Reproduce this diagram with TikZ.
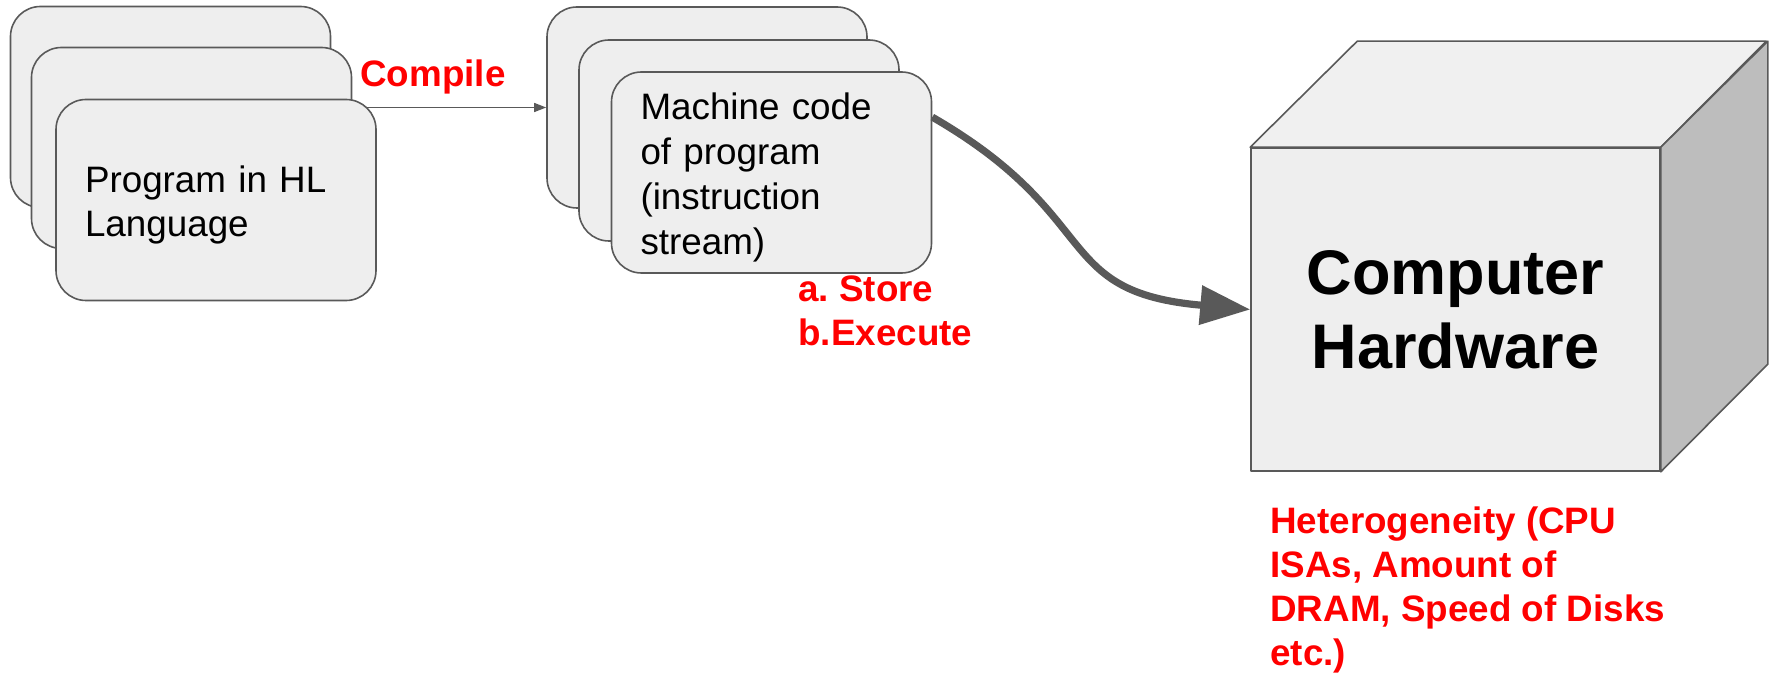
\documentclass[tikz,border=0pt]{standalone}
\usepackage{fontspec}
\setmainfont{Liberation Sans}
\usetikzlibrary{arrows.meta, positioning, backgrounds}
\definecolor{cardfill}{HTML}{EEEEEE}
\definecolor{topfill}{HTML}{F0F0F0}
\definecolor{edgegray}{HTML}{595959}
\definecolor{sidegray}{HTML}{BDBDBD}
\definecolor{notered}{HTML}{FF0000}

\begin{document}
\begin{tikzpicture}[x=0.5pt, y=0.5pt]
			\tikzset {card/.style={draw=edgegray, line width=0.8pt, fill=cardfill, rounded corners=15pt, minimum height=100.5pt, text width=131pt, inner xsep=14.5pt, align=left, font=\fontsize{18.4}{22.4}\selectfont, execute at begin node={\rule{0pt}{18.4pt}}},
				note/.style={text=notered, inner sep=0pt, align=left, font=\fontsize{18.4}{22}\selectfont\bfseries},
				face/.style={draw=edgegray, line width=0.8pt, line join=round},
				thinarrow/.style={-{Triangle[length=6pt, width=4.5pt]}, draw=edgegray, line width=0.6pt},
				bigarrow/.style={-{Triangle[length=25pt, width=19pt]}, draw=edgegray, line width=3.6pt} }

			\useasboundingbox (0,0) rectangle (1775,-673);

			\node[card]	(prog1)	at (170.5,-107)		{};
			\node[card]	(prog2)	at (191.5,-148)		{};
			\node[card]	(prog)	at (216,-200)		{Program in HL\\Language};

			\node[card]	(mcode1)	at (707,-107.5)		{};
			\node[card]	(mcode2)	at (739,-140.5)		{};
			\node[card]	(mcode)		at (771.5,-172.5)	{Machine code\\of program\\(instruction\\stream)};

			\node[face, fill=cardfill, minimum width=204.5pt, minimum height=161.5pt, align=center, font=\fontsize{31.5}{37}\selectfont\bfseries]	(hw)	at (1455.5,-309.5)	{Computer\\Hardware};
			\draw[face, fill=topfill]	(hw.north west) -- ++(107,106) -- ++(409,0) -- (hw.north east) -- cycle;
			\draw[face, fill=sidegray]	(hw.north east) -- ++(107,106) -- ++(0,-323) -- (hw.south east) -- cycle;

			\node[note, anchor=base west]	(compile)	at (360,-87)	{Compile};
			\node[note, anchor=north west]	(steps)		at (798,-275)	{a.\ Store\\b.Execute};
			\node[note, anchor=north west]	(hetero)	at (1270,-506)	{Heterogeneity (CPU\\ISAs, Amount of\\DRAM, Speed of Disks\\etc.)};

			\begin{scope}[on background layer]
				\draw[thinarrow] (prog.center |- mcode1.west) -- (mcode1.west);
			\end{scope}
			\draw[bigarrow] (mcode.19) .. controls +(-30:200) and +(175:200) .. (hw.west);

\end{tikzpicture}
\end{document}
